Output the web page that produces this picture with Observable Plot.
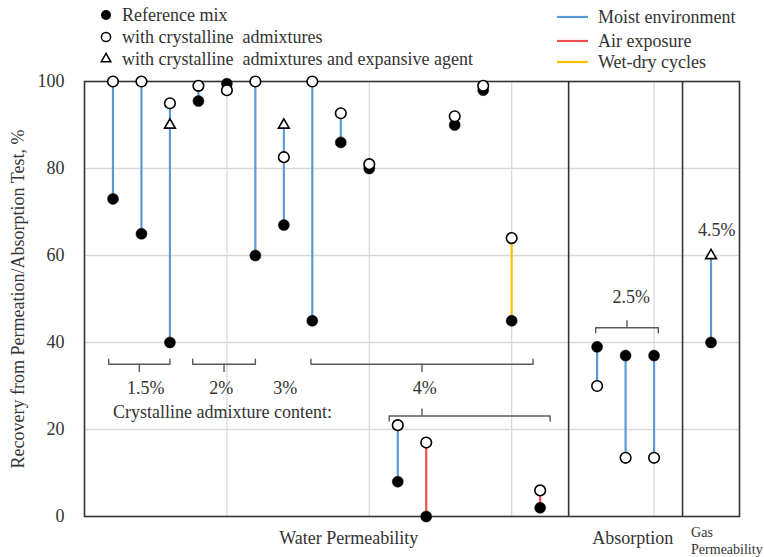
<!DOCTYPE html>
<html><head><meta charset="utf-8">
<script src="https://cdn.jsdelivr.net/npm/d3@7"></script>
<script src="https://cdn.jsdelivr.net/npm/@observablehq/plot@0.6"></script>
<style>body{margin:0;background:#fff}</style>
</head><body><div id="chart"></div>
<script>
// ---- data ----
const positions       = [2, 4, 6, 8, 10, 12, 14, 16, 18, 20, 22, 24, 26, 28, 30, 32, 36, 38, 40, 44];
const referenceMix    = [73, 65, 40, 95.5, 99.5, 60, 67, 45, 86, 80, 8, 0, 90, 98, 45, 2, 39, 37, 37, 40];
const withCrystalline = [100, 100, 95, 99, 98, 100, 82.6, 100, 92.7, 81, 21, 17, 92, 99, 64, 6, 30, 13.5, 13.5, null];
const withExpansive   = [null, null, 90, null, null, null, 90, null, null, null, null, null, null, null, null, null, null, null, null, 60];
const exposure = ["Moist environment","Moist environment","Moist environment","Moist environment","Moist environment",
  "Moist environment","Moist environment","Moist environment","Moist environment","Moist environment",
  "Moist environment","Air exposure","Moist environment","Moist environment","Wet-dry cycles",
  "Air exposure","Moist environment","Moist environment","Moist environment","Moist environment"];
const exposureTypes = ["Moist environment", "Air exposure", "Wet-dry cycles"];
const exposureColors = ["#5b9bd5", "#f0504f", "#ffc000"];
const yTicks = [0, 20, 40, 60, 80, 100];

// bracket annotations (data units)
const bracketStart = [1.7, 7.6, 15.9, 21.4, 35.9];
const bracketEnd   = [6.0, 12.0, 31.5, 32.7, 40.3];
const bracketTick  = [3.85, 9.8, 23.7, 23.7, 38.1];
const bracketLevel = [35.0, 35.0, 35.0, 23.1, 43.4];
const bracketTickUp = [false, false, false, true, true];

const contentLabels = ["1.5%", "2%", "3%", "4%", "2.5%", "4.5%"];
const contentX      = [4.3, 9.6, 14.1, 23.9, 38.4, 44.4];
const contentY      = [29.4, 29.4, 29.4, 29.4, 50.3, 65.9];

const sectionLabels = ["Water Permeability", "Absorption"];
const sectionX      = [18.55, 38.5];
const gasLabel = "Gas\nPermeability";
const gasX = 42.6;

// ---- tables ----
const rows = positions.map((x, i) => {
  const others = [withCrystalline[i], withExpansive[i]].filter(v => v != null);
  return {x, ref: referenceMix[i], cry: withCrystalline[i], exp: withExpansive[i],
    lo: referenceMix[i], hi: others.length ? (d3.max(others) >= referenceMix[i] ? d3.max(others) : d3.min(others)) : referenceMix[i],
    exposure: exposure[i]};
});
const brackets = bracketStart.map((s, i) => ({s, e: bracketEnd[i], t: bracketTick[i], y: bracketLevel[i], up: bracketTickUp[i], id: i}));
const bracketPts = brackets.flatMap(b => {
  const end = b.up ? b.y - 1.15 : b.y + 1.15;
  return [{id: b.id, x: b.s, y: end}, {id: b.id, x: b.s, y: b.y}, {id: b.id, x: b.e, y: b.y}, {id: b.id, x: b.e, y: end}];
});
const bracketTicks = brackets.map(b => ({x: b.t, y1: b.y, y2: b.up ? b.y + 1.6 : b.y - 1.9}));
const contentRows = contentLabels.map((t, i) => ({t, x: contentX[i], y: contentY[i]}));
const sectionRows = sectionLabels.map((t, i) => ({t, x: sectionX[i]}));

const ink = "#333333";
const svg = Plot.plot({
  width: 764, height: 557,
  marginLeft: 84, marginRight: 25, marginTop: 81, marginBottom: 41,
  style: {fontFamily: "'Liberation Serif', 'Times New Roman', serif", fontSize: "18px", color: ink, background: "#fff"},
  x: {domain: [0, 46], axis: null},
  y: {domain: [0, 100], ticks: yTicks, tickSize: 0, tickPadding: 20, label: null},
  color: {domain: exposureTypes, range: exposureColors},
  marks: [
    Plot.gridY([20, 40, 60, 80], {stroke: "#d9d9d9", strokeOpacity: 1, strokeWidth: 1.3}),
    Plot.gridX([10, 20, 30, 40], {stroke: "#d9d9d9", strokeOpacity: 1, strokeWidth: 1.3}),
    Plot.ruleX([34, 42], {stroke: ink, strokeWidth: 1.6}),
    Plot.frame({stroke: ink, strokeWidth: 1.6}),
    Plot.ruleX(rows, {x: "x", y1: "lo", y2: "hi", stroke: "exposure", strokeWidth: 2.2}),
    Plot.dot(rows, {x: "x", y: "ref", r: 5.5, fill: "black", stroke: "black", strokeWidth: 0.5}),
    Plot.dot(rows.filter(d => d.cry != null), {x: "x", y: "cry", r: 5.3, fill: "white", stroke: "black", strokeWidth: 1.6}),
    Plot.dot(rows.filter(d => d.exp != null), {x: "x", y: "exp", r: 4, symbol: "triangle", fill: "white", stroke: "black", strokeWidth: 1.6}),
    Plot.line(bracketPts, {x: "x", y: "y", z: "id", stroke: "#595959", strokeWidth: 1.4}),
    Plot.ruleX(bracketTicks, {x: "x", y1: "y1", y2: "y2", stroke: "#595959", strokeWidth: 1.4}),
    Plot.text(contentRows, {x: "x", y: "y", text: "t", fill: ink, fontSize: 18}),
    Plot.text(["Crystalline admixture content:"], {x: 2.0, y: 24.0, text: d => d, textAnchor: "start", fill: ink, fontSize: 18}),
    Plot.text(sectionRows, {x: "x", y: 0, dy: 22, text: "t", fill: ink, fontSize: 18}),
    Plot.text([gasLabel], {x: gasX, y: 0, dy: 24, text: d => d, textAnchor: "start", fill: ink, fontSize: 14, lineHeight: 1.2}),
    Plot.text(["Recovery from Permeation/Absorption Test, %"], {frameAnchor: "left", dx: -66, rotate: -90, textAnchor: "middle", text: d => d, fill: ink, fontSize: 18})
  ]
});

// ---- legend (drawn in the top margin) ----
const g = d3.select(svg).append("g")
  .attr("font-family", "'Liberation Serif', 'Times New Roman', serif")
  .attr("font-size", 18).attr("fill", ink).attr("text-anchor", "start");
const markerLabels = ["Reference mix", "with crystalline  admixtures", "with crystalline  admixtures and expansive agent"];
const markerY = [15, 37, 59];
markerLabels.forEach((t, i) => {
  const y = markerY[i];
  if (i === 0) g.append("circle").attr("cx", 106).attr("cy", y).attr("r", 5).attr("fill", "black");
  if (i === 1) g.append("circle").attr("cx", 106).attr("cy", y).attr("r", 4.6).attr("fill", "white").attr("stroke", "black").attr("stroke-width", 1.5);
  if (i === 2) g.append("path").attr("transform", `translate(106,${y})`).attr("d", d3.symbol(d3.symbolTriangle, 40)()).attr("fill", "white").attr("stroke", "black").attr("stroke-width", 1.5);
  g.append("text").attr("x", 122).attr("y", y).attr("dy", "0.32em").attr("text-anchor", "start").style("white-space", "pre").text(t);
});
const lineY = [17, 41, 62];
exposureTypes.forEach((t, i) => {
  const y = lineY[i];
  g.append("line").attr("x1", 557).attr("x2", 588).attr("y1", y).attr("y2", y).attr("stroke", exposureColors[i]).attr("stroke-width", 2.2);
  g.append("text").attr("x", 598).attr("y", y).attr("dy", "0.32em").attr("text-anchor", "start").text(t);
});

document.getElementById("chart").appendChild(svg);
</script>
</body></html>
